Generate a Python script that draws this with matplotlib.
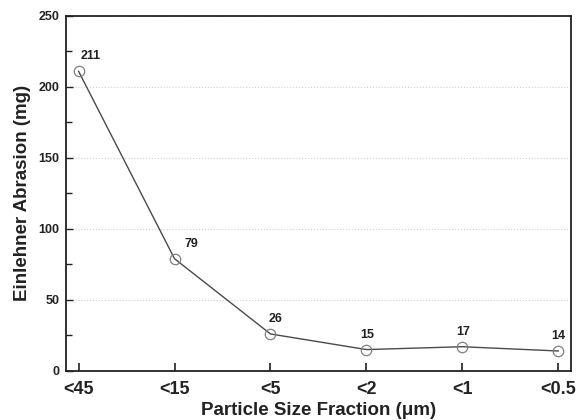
import matplotlib
matplotlib.use("Agg")
import matplotlib.pyplot as plt
from matplotlib.ticker import MultipleLocator

categories = ["<45", "<15", "<5", "<2", "<1", "<0.5"]
abrasion = [211, 79, 26, 15, 17, 14]
labels = ["211", "79", "26", "15", "17", "14"]

plt.rcParams['font.family'] = ['Liberation Sans', 'DejaVu Sans']
plt.rcParams['font.weight'] = 'bold'

fig = plt.figure(figsize=(5.8, 4.2), dpi=100)
ax = fig.add_axes([0.114, 0.117, 0.870, 0.845])

x = list(range(len(categories)))
ax.plot(x, abrasion, color='#4a4a4a', lw=1.0, marker='o', ms=7.5,
        mfc='none', mec='#808080', mew=0.9, zorder=3)

# label placement (pixel offsets from point)
offsets = [(2, 9, 'left'), (10, 9, 'left'), (5, 9, 'center'),
           (1, 9, 'center'), (1, 9, 'center'), (0, 9, 'center')]
for xi, yi, t, (dx, dy, ha) in zip(x, abrasion, labels, offsets):
    ax.annotate(t, (xi, yi), xytext=(dx, dy), textcoords='offset pixels',
                ha=ha, va='bottom', fontsize=9, fontweight='bold', color='#222222')

ax.set_xlim(-0.13, 5.13)
ax.set_ylim(0, 250)
ax.set_xticks(x)
ax.set_xticklabels(categories)
ax.yaxis.set_major_locator(MultipleLocator(50))
ax.yaxis.set_minor_locator(MultipleLocator(25))
ax.tick_params(axis='both', which='both', direction='in', color='#222222')
ax.tick_params(axis='x', length=6, width=1.2, labelsize=13, pad=7)
ax.tick_params(axis='y', which='major', length=5, width=1.0, labelsize=9, pad=5)
ax.tick_params(axis='y', which='minor', length=4, width=1.0)
for lbl in ax.get_xticklabels() + ax.get_yticklabels():
    lbl.set_fontweight('bold')
    lbl.set_color('#222222')
ax.grid(axis='y', which='major', color='#d0d0d0', linestyle=':', linewidth=0.8)
for s in ax.spines.values():
    s.set_linewidth(1.3)
    s.set_color('#222222')

ax.set_xlabel("Particle Size Fraction (\u03bcm)", fontsize=13.5, fontweight='bold',
              labelpad=3, color='#222222')
ax.set_ylabel("Einlehner Abrasion (mg)", fontsize=13.5, fontweight='bold',
              labelpad=5, color='#222222')

fig.savefig("out.png", dpi=100)
